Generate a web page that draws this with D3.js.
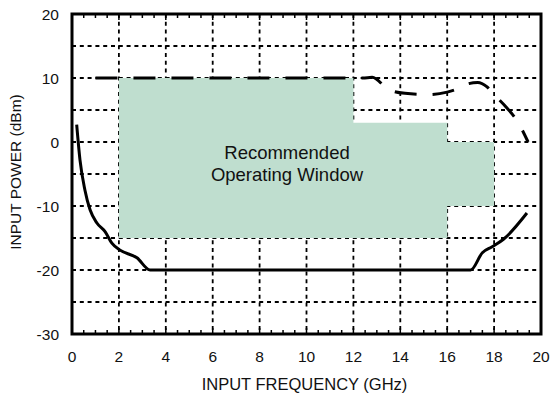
<!DOCTYPE html>
<html><head><meta charset="utf-8">
<script src="https://cdn.jsdelivr.net/npm/d3@7"></script>
<style>body{margin:0;background:#fff}svg{display:block}text{font-family:"Liberation Sans",Arial,Helvetica,sans-serif;fill:#111}</style>
</head><body><svg id="c" width="550" height="402"></svg>
<script>
const xTicks = [0,2,4,6,8,10,12,14,16,18,20];
const yTicks = [-30,-20,-10,0,10,20];
const xGrid = [2,4,6,8,10,12,14,16,18];
const yGrid = [-25,-20,-15,-10,-5,0,5,10,15];
// Recommended operating window (freq GHz, power dBm) outline
const windowPoly = [[2,10],[12,10],[12,3],[16,3],[16,0],[18,0],[18,-10],[16,-10],[16,-15],[2,-15]];
// Upper limit (dashed)
const upperFreq = [1.0,12.4,12.8,13.5,14.2,15.2,16.0,16.5,16.9,17.3,17.7,18.0,18.5,19.0,19.45];
const upperPow  = [10,10,10.1,8.2,7.6,7.4,7.8,8.4,9.1,9.3,8.6,7.4,5.5,3.2,0];
// Lower limit (solid)
const lowerFreq = [0.2,0.34,0.55,0.77,1.07,1.41,1.7,2.05,2.77,3.33,17.0,17.5,17.9,18.4,19.4];
const lowerPow  = [2.7,-2.8,-7.5,-10.6,-12.7,-14,-15.8,-16.9,-18.1,-20,-20,-17.3,-16.4,-15.2,-11.1];

const svg = d3.select("#c");
const x = d3.scaleLinear().domain([0,20]).range([72,541]);
const y = d3.scaleLinear().domain([-30,20]).range([334,14]);

// grid
const g = svg.append("g");
g.selectAll("line.v").data(xGrid).enter().append("line")
 .attr("x1",d=>x(d)).attr("x2",d=>x(d)).attr("y1",y(20)).attr("y2",y(-30))
 .attr("stroke","#000").attr("stroke-width",1.8).attr("stroke-dasharray","4,3.8");
g.selectAll("line.h").data(yGrid).enter().append("line")
 .attr("y1",d=>y(d)).attr("y2",d=>y(d)).attr("x1",x(0)).attr("x2",x(20))
 .attr("stroke","#000").attr("stroke-width",1.8).attr("stroke-dasharray","4,3.8");

// window
svg.append("path").attr("d", d3.line().x(d=>x(d[0])).y(d=>y(d[1]))(windowPoly)+"Z")
 .attr("fill","#bfdecf");
svg.append("text").attr("x",287).attr("y",159).attr("text-anchor","middle").attr("font-size",18.5).text("Recommended");
svg.append("text").attr("x",287).attr("y",181).attr("text-anchor","middle").attr("font-size",18.5).text("Operating Window");

// curves
const line = d3.line().curve(d3.curveMonotoneX).x(d=>x(d[0])).y(d=>y(d[1]));
svg.append("path").attr("d", line(upperFreq.map((f,i)=>[f,upperPow[i]])))
 .attr("fill","none").attr("stroke","#000").attr("stroke-width",3).attr("stroke-dasharray","22,16");
svg.append("path").attr("d", line(lowerFreq.map((f,i)=>[f,lowerPow[i]])))
 .attr("fill","none").attr("stroke","#000").attr("stroke-width",3);

// minor ticks top/bottom
const minor = d3.range(0,20.01,0.5);
["top","bottom"].forEach(side=>{
  const y0 = side==="top"?y(20):y(-30), dir = side==="top"?1:-1;
  svg.selectAll(null).data(minor).enter().append("line")
   .attr("x1",d=>x(d)).attr("x2",d=>x(d)).attr("y1",y0).attr("y2",d=>y0+dir*(d%2===0?6:4))
   .attr("stroke","#000").attr("stroke-width",1.5);
});

// frame
svg.append("rect").attr("x",x(0)).attr("y",y(20)).attr("width",x(20)-x(0)).attr("height",y(-30)-y(20))
 .attr("fill","none").attr("stroke","#000").attr("stroke-width",3);

// tick labels
svg.selectAll("text.xt").data(xTicks).enter().append("text")
 .attr("x",d=>x(d)).attr("y",362).attr("text-anchor","middle").attr("font-size",15.5).text(d=>d);
svg.selectAll("text.yt").data(yTicks).enter().append("text")
 .attr("x",59).attr("y",d=>y(d)+5.5).attr("text-anchor","end").attr("font-size",15.5).text(d=>d);

svg.append("text").attr("x",x(10)-2).attr("y",390).attr("text-anchor","middle").attr("font-size",16.5).text("INPUT FREQUENCY (GHz)");
svg.append("text").attr("transform",`translate(21,${y(-5)-2}) rotate(-90)`).attr("text-anchor","middle").attr("font-size",15.5).text("INPUT POWER (dBm)");
</script></body></html>
